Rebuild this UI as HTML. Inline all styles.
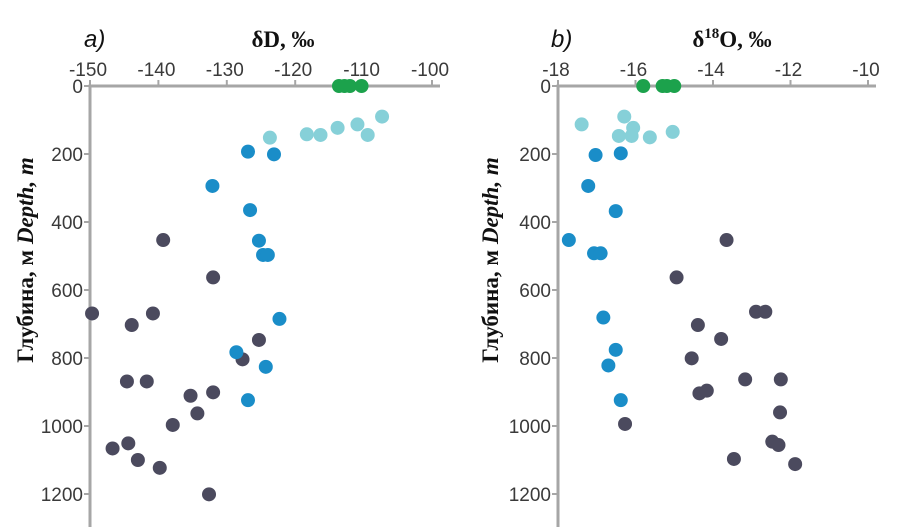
<!DOCTYPE html>
<html><head><meta charset="utf-8"><style>
body{margin:0;background:#fff;}
svg{display:block;}
.tk{font-family:"Liberation Sans",sans-serif;font-size:19px;fill:#3a3a3a;}
.tt{font-family:"Liberation Serif",serif;font-size:23px;font-weight:bold;fill:#111;}
.yt{font-family:"Liberation Serif",serif;font-size:23px;font-weight:bold;fill:#111;}
.pl{font-family:"Liberation Sans",sans-serif;font-size:24px;font-style:italic;fill:#111;}
</style></head><body>
<svg id="c" width="900" height="532">
<text class="pl" x="84" y="47">a)</text>
<text class="tt" x="283" y="47" text-anchor="middle">δD, ‰</text>
<text class="yt" x="33" y="260" text-anchor="middle" transform="rotate(-90 33 260)">Глубина, м <tspan font-style="italic">Depth, m</tspan></text>
<text class="pl" x="551" y="47">b)</text>
<text class="tt" x="732" y="47" text-anchor="middle">δ<tspan font-size="15" dy="-9">18</tspan><tspan dy="9">O, ‰</tspan></text>
<text class="yt" x="498" y="260" text-anchor="middle" transform="rotate(-90 498 260)">Глубина, м <tspan font-style="italic">Depth, m</tspan></text>
</svg>
<script>
const depthTicks=[0,200,400,600,800,1000,1200];
const dTicks=[-150,-140,-130,-120,-110,-100];
const oTicks=[-18,-16,-14,-12,-10];
// Panel a (δD): values and depths
const aGreenX=[-113.6,-112.8,-112.0,-110.3];
const aGreenY=[0,0,0,0];
const aLightX=[-107.3,-110.9,-113.8,-109.4,-116.3,-118.3,-123.7];
const aLightY=[90,113,123,144,144,142,152];
const aBlueX=[-126.9,-123.1,-132.1,-126.6,-125.3,-124.7,-124.0,-122.3,-128.6,-124.3,-126.9];
const aBlueY=[193,201,294,365,455,497,497,685,783,826,924];
const aDarkX=[-139.3,-132.0,-149.7,-140.8,-143.9,-125.3,-127.7,-144.6,-141.7,-132.0,-135.3,-134.3,-137.9,-144.4,-146.7,-143.0,-139.8,-132.6];
const aDarkY=[453,563,669,669,703,747,804,869,869,901,911,963,997,1051,1066,1100,1123,1201];
// Panel b (δ18O)
const bGreenX=[-15.8,-15.19,-15.3,-15.0];
const bGreenY=[0,0,0,0];
const bLightX=[-16.29,-17.39,-16.06,-16.10,-16.43,-15.63,-15.04];
const bLightY=[90,113,123,147,147,151,135];
const bBlueX=[-17.03,-16.38,-17.22,-16.51,-17.72,-17.07,-16.90,-16.83,-16.51,-16.70,-16.38];
const bBlueY=[203,198,294,368,453,492,492,681,776,822,924];
const bDarkX=[-13.65,-14.94,-12.89,-12.65,-14.39,-13.79,-14.55,-13.17,-12.25,-14.35,-14.16,-12.27,-16.27,-12.47,-12.31,-13.46,-11.88];
const bDarkY=[453,563,664,664,703,744,801,863,863,904,896,960,994,1046,1056,1097,1112];

const NS="http://www.w3.org/2000/svg";
const svg=document.getElementById('c');
function mk(t,a){const e=document.createElementNS(NS,t);for(const k in a)e.setAttribute(k,a[k]);svg.appendChild(e);return e;}
const yS=d=>86+d*0.34;
function panel(x0,x1,vmin,vmax,ticks,lab,series){
  const xS=v=>x0+(v-vmin)/(vmax-vmin)*(x1-x0);
  let e=mk('line',{x1:x0,y1:86,x2:x1+8,y2:86,stroke:'#a6a6a6','stroke-width':3});
  
  
  e=mk('line',{x1:x0,y1:84.5,x2:x0,y2:527,stroke:'#a6a6a6','stroke-width':3});
  
  
  ticks.forEach(v=>{
    mk('line',{x1:xS(v),y1:80,x2:xS(v),y2:86,stroke:'#a6a6a6','stroke-width':2});
    const t=mk('text',{x:xS(v)-2,y:76,'text-anchor':'middle',class:'tk'});
    t.textContent=v;
    
    
  });
  depthTicks.forEach(d=>{
    mk('line',{x1:x0-6,y1:yS(d),x2:x0,y2:yS(d),stroke:'#a6a6a6','stroke-width':2});
    const t=mk('text',{x:x0-7,y:yS(d)+7,'text-anchor':'end',class:'tk'});
    t.textContent=d;
    
    
  });
  series.forEach(s=>{
    s.x.forEach((v,i)=>{
      const c=mk('circle',{cx:xS(v),cy:yS(s.y[i]),r:7,fill:s.c});
      
      
    });
  });
}
panel(90,432,-150,-100,dTicks,'a',[
 {x:aDarkX,y:aDarkY,c:'#4b4a5e',n:'deep'},
 {x:aBlueX,y:aBlueY,c:'#1a8dc8',n:'middle'},
 {x:aLightX,y:aLightY,c:'#86d0d8',n:'shallow'},
 {x:aGreenX,y:aGreenY,c:'#1ca24c',n:'surface'}]);
panel(558,868,-18,-10,oTicks,'b',[
 {x:bDarkX,y:bDarkY,c:'#4b4a5e',n:'deep'},
 {x:bBlueX,y:bBlueY,c:'#1a8dc8',n:'middle'},
 {x:bLightX,y:bLightY,c:'#86d0d8',n:'shallow'},
 {x:bGreenX,y:bGreenY,c:'#1ca24c',n:'surface'}]);
</script>
</body></html>
